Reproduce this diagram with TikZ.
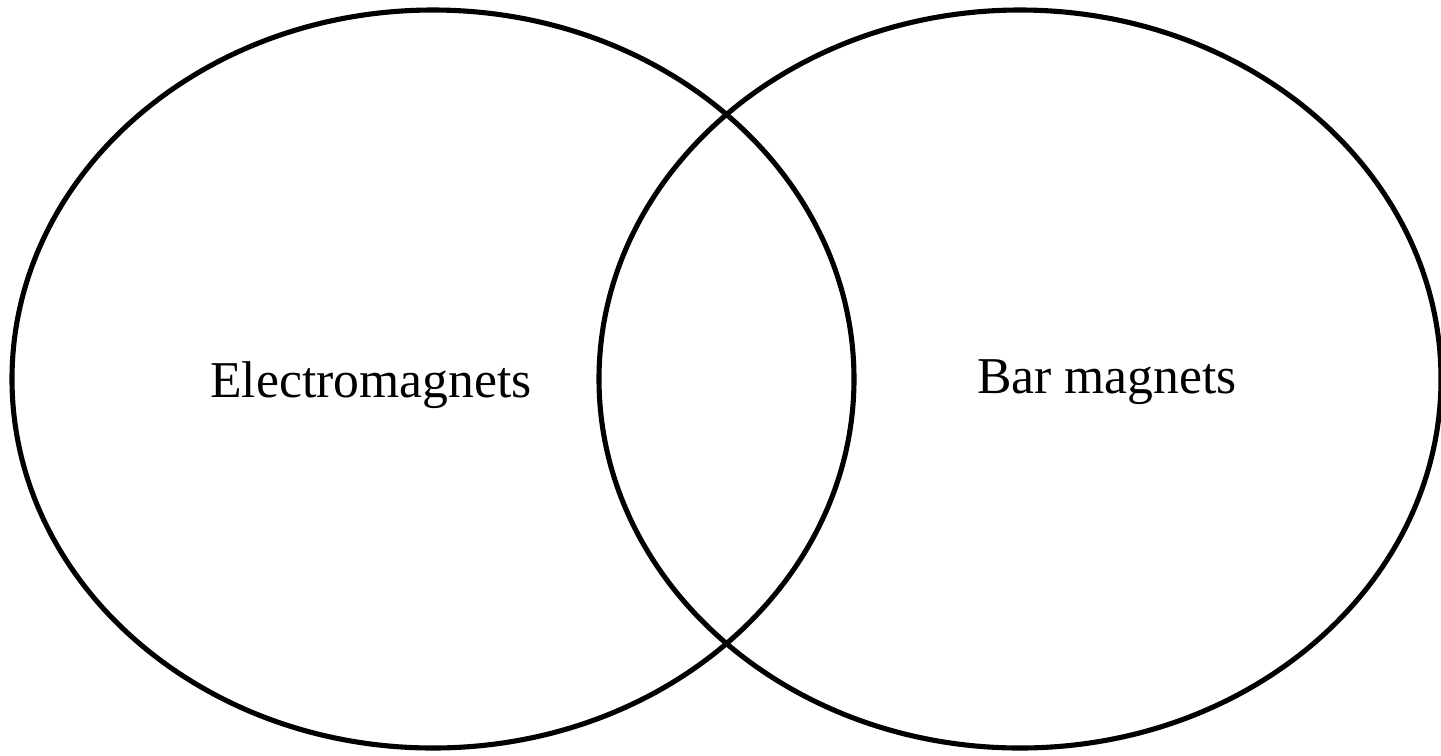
\documentclass[tikz,border=0pt]{standalone}
\usepackage{fontspec}
\setmainfont{Liberation Serif}
\usetikzlibrary{math}

\begin{document}
\begin{tikzpicture}
\tikzmath{
\Rx=4.21;
\Ry=3.69;
\xa=4.33;
\xb=10.20;
\yc=3.76;
}
\useasboundingbox (0,0) rectangle (14.41,7.55);

%sets:
 \draw[line width=1.45pt] (\xa,\yc) ellipse [x radius=\Rx, y radius=\Ry];
 \draw[line width=1.45pt] (\xb,\yc) ellipse [x radius=\Rx, y radius=\Ry];

%labels:
 \node[font=\fontsize{14.7}{17}\selectfont] (electro) at (3.71,3.70) {Electromagnets};
 \node[font=\fontsize{14.7}{17}\selectfont] (bar) at (11.07,3.73) {Bar magnets};
\end{tikzpicture}
\end{document}
